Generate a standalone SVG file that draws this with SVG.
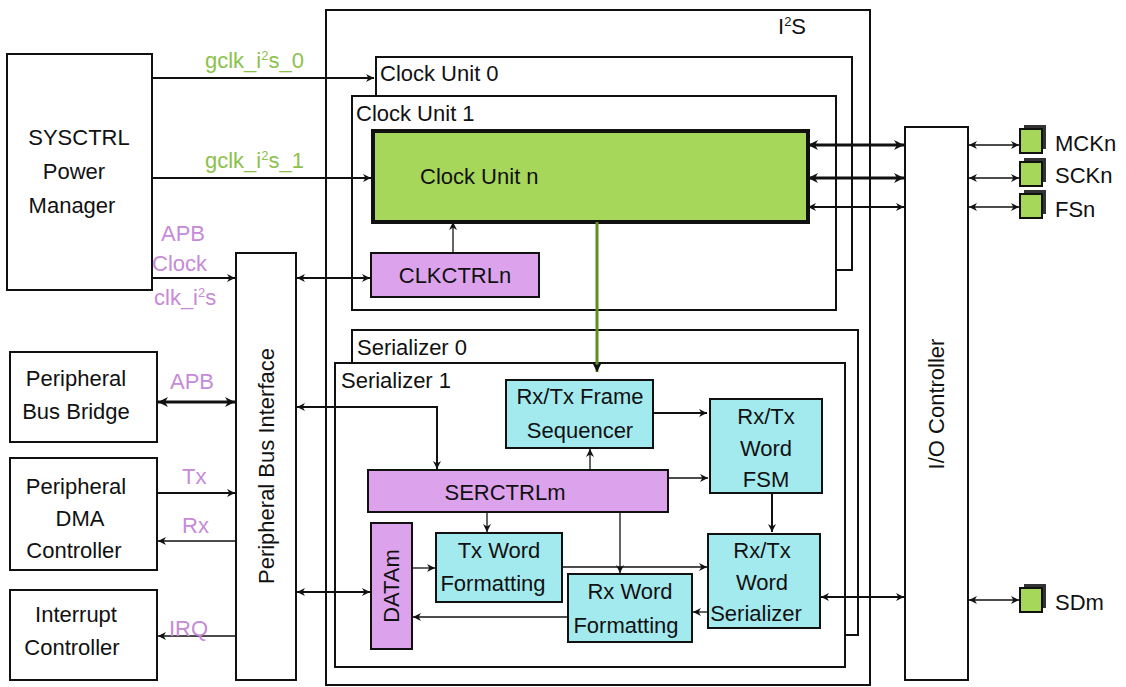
<svg xmlns="http://www.w3.org/2000/svg" width="1126" height="687" viewBox="0 0 1126 687">
<defs>
<marker id="a" viewBox="0 0 10 10" refX="10" refY="5" markerWidth="10" markerHeight="8" markerUnits="userSpaceOnUse" orient="auto-start-reverse"><path d="M0,0 L10,5 L0,10 L3,5z" fill="#111"/></marker>
<marker id="b" viewBox="0 0 10 10" refX="10" refY="5" markerWidth="14" markerHeight="10" markerUnits="userSpaceOnUse" orient="auto-start-reverse"><path d="M0,0 L10,5 L0,10 L3,5z" fill="#111"/></marker>
</defs>
<style>
text{font-family:"Liberation Sans",Arial,sans-serif;font-size:22px;fill:#111}
.box{fill:#fff;stroke:#111;stroke-width:2}
.g{fill:#a6d75b;stroke:#111;stroke-width:4}
.v{fill:#dca3ec;stroke:#111;stroke-width:2}
.c{fill:#a3eaee;stroke:#111;stroke-width:2}
.l{stroke:#111;stroke-width:2;fill:none}
.t{stroke:#111;stroke-width:1.3;fill:none}
.k{stroke:#111;stroke-width:3;fill:none}
.lg{fill:#8cc14c}
.lv{fill:#c68ad8}
.m{text-anchor:middle}
</style>
<rect width="1126" height="687" fill="#fff"/>
<g id="i2s"><rect class="box" x="326" y="10" width="544" height="675"/><text x="778" y="34">I<tspan font-size="13" dy="-8">2</tspan><tspan dy="8">S</tspan></text></g>
<g id="cu0"><rect class="box" x="376" y="57" width="476" height="213"/><text x="380" y="81">Clock  Unit 0</text></g>
<g id="cu1"><rect class="box" x="352" y="96" width="484" height="214"/><text x="356" y="121">Clock  Unit 1</text></g>
<g id="cun"><rect class="g" x="373" y="131" width="435" height="91"/><text x="420" y="184">Clock  Unit n</text></g>
<g id="clkctrl"><rect class="v" x="371" y="253" width="168" height="44"/><text class="m" x="455" y="283">CLKCTRLn</text></g>
<g id="ser0"><rect class="box" x="352" y="330" width="506" height="305"/><text x="357" y="355">Serializer 0</text></g>
<g id="ser1"><rect class="box" x="335" y="363" width="510" height="304"/><text x="341" y="388">Serializer 1</text></g>
<g id="frame"><rect class="c" x="506" y="380" width="147" height="68"/><text class="m" x="580" y="404">Rx/Tx Frame</text><text class="m" x="580" y="438">Sequencer</text></g>
<g id="fsm"><rect class="c" x="710" y="399" width="112" height="94"/><text class="m" x="766" y="424">Rx/Tx</text><text class="m" x="766" y="456">Word</text><text class="m" x="766" y="487">FSM</text></g>
<g id="serctrl"><rect class="v" x="368" y="470" width="300" height="42"/><text class="m" x="505" y="500">SERCTRLm</text></g>
<g id="datam"><rect class="v" x="371" y="523" width="41" height="126"/><text class="m" transform="translate(399,586) rotate(-90)">DATAm</text></g>
<g id="txw"><rect class="c" x="436" y="533" width="126" height="69"/><text class="m" x="499" y="558">Tx Word</text><text class="m" x="493" y="591">Formatting</text></g>
<g id="rxw"><rect class="c" x="568" y="574" width="124" height="68"/><text class="m" x="630" y="599">Rx Word</text><text class="m" x="626" y="633">Formatting</text></g>
<g id="wser"><rect class="c" x="708" y="534" width="112" height="94"/><text class="m" x="762" y="558">Rx/Tx</text><text class="m" x="762" y="590">Word</text><text class="m" x="756" y="621">Serializer</text></g>
<g id="sysctrl"><rect class="box" x="7" y="54" width="145" height="236"/><text class="m" x="79" y="145">SYSCTRL</text><text class="m" x="74" y="179">Power</text><text class="m" x="72" y="213">Manager</text></g>
<g id="pbb"><rect class="box" x="10" y="352" width="147" height="90"/><text class="m" x="76" y="386">Peripheral</text><text class="m" x="76" y="419">Bus Bridge</text></g>
<g id="dma"><rect class="box" x="10" y="458" width="147" height="112"/><text class="m" x="76" y="494">Peripheral</text><text class="m" x="80" y="526">DMA</text><text class="m" x="74" y="558">Controller</text></g>
<g id="intc"><rect class="box" x="10" y="590" width="147" height="90"/><text class="m" x="76" y="622">Interrupt</text><text class="m" x="72" y="655">Controller</text></g>
<g id="pbi"><rect class="box" x="236" y="253" width="60" height="427"/><text class="m" transform="translate(274,466) rotate(-90)">Peripheral Bus Interface</text></g>
<g id="ioc"><rect class="box" x="905" y="127" width="63" height="553"/><text class="m" transform="translate(944,404) rotate(-90)">I/O  Controller</text></g>
<g id="pins">
<rect x="1024" y="125" width="22" height="24" fill="#333"/><rect x="1020" y="129" width="22" height="24" fill="#a6d75b" stroke="#111" stroke-width="2"/><text x="1055" y="151">MCKn</text>
<rect x="1024" y="158" width="22" height="24" fill="#333"/><rect x="1020" y="162" width="22" height="24" fill="#a6d75b" stroke="#111" stroke-width="2"/><text x="1055" y="183">SCKn</text>
<rect x="1024" y="190" width="22" height="24" fill="#333"/><rect x="1020" y="194" width="22" height="24" fill="#a6d75b" stroke="#111" stroke-width="2"/><text x="1055" y="217">FSn</text>
<rect x="1024" y="584" width="22" height="24" fill="#333"/><rect x="1020" y="588" width="22" height="24" fill="#a6d75b" stroke="#111" stroke-width="2"/><text x="1055" y="610">SDm</text>
</g>
<g id="connectors">
<path class="l" d="M152,78 H374" marker-end="url(#a)"/>
<path class="l" d="M152,178 H371" marker-end="url(#a)"/>
<path class="l" d="M152,278 H235" marker-end="url(#a)"/>
<path class="l" d="M297,278 H370" marker-start="url(#a)" marker-end="url(#a)"/>
<path class="t" d="M453,253 V222" marker-end="url(#a)"/>
<path stroke="#5e8f1f" stroke-width="3" fill="none" d="M597,222 V372" marker-end="url(#b)"/>
<path class="k" d="M808,145 H904" marker-start="url(#b)" marker-end="url(#b)"/>
<path class="k" d="M808,178 H904" marker-start="url(#b)" marker-end="url(#b)"/>
<path class="l" d="M808,207 H904" marker-start="url(#a)" marker-end="url(#a)"/>
<path class="t" d="M969,145 H1019" marker-start="url(#a)" marker-end="url(#a)"/>
<path class="t" d="M969,178 H1019" marker-start="url(#a)" marker-end="url(#a)"/>
<path class="t" d="M969,207 H1019" marker-start="url(#a)" marker-end="url(#a)"/>
<path class="t" d="M969,600 H1019" marker-start="url(#a)" marker-end="url(#a)"/>
<path class="k" d="M158,402 H235" marker-start="url(#b)" marker-end="url(#b)"/>
<path class="l" d="M157,493 H235" marker-end="url(#a)"/>
<path class="t" d="M236,541 H158" marker-end="url(#a)"/>
<path class="t" d="M236,636 H158" marker-end="url(#a)"/>
<path class="l" d="M297,592 H370" marker-start="url(#a)" marker-end="url(#a)"/>
<path class="l" d="M297,407 H437 V469" marker-start="url(#a)" marker-end="url(#a)"/>
<path class="l" d="M653,413 H707" marker-end="url(#a)"/>
<path class="t" d="M590,470 V449" marker-end="url(#a)"/>
<path class="t" d="M668,478 H708" marker-end="url(#a)"/>
<path class="l" d="M772,493 V532" marker-end="url(#a)"/>
<path class="t" d="M487,512 V532" marker-end="url(#a)"/>
<path class="t" d="M620,512 V573" marker-end="url(#a)"/>
<path class="t" d="M412,568 H435" marker-end="url(#a)"/>
<path class="t" d="M562,567 H707" marker-end="url(#a)"/>
<path class="t" d="M708,612 H693" marker-end="url(#a)"/>
<path class="t" d="M568,617 H413" marker-end="url(#a)"/>
<path class="l" d="M821,597 H904" marker-start="url(#a)" marker-end="url(#a)"/>
</g>
<g id="labels">
<text class="lg" x="205" y="68">gclk_i<tspan font-size="13" dy="-8">2</tspan><tspan dy="8">s_0</tspan></text>
<text class="lg" x="205" y="168">gclk_i<tspan font-size="13" dy="-8">2</tspan><tspan dy="8">s_1</tspan></text>
<text class="lv" x="161" y="241">APB</text>
<text class="lv" x="152" y="271">Clock</text>
<text class="lv" x="154" y="305">clk_i<tspan font-size="13" dy="-8">2</tspan><tspan dy="8">s</tspan></text>
<text class="lv" x="170" y="389">APB</text>
<text class="lv" x="182" y="484">Tx</text>
<text class="lv" x="182" y="533">Rx</text>
<text class="lv" x="169" y="636">IRQ</text>
</g>
</svg>
